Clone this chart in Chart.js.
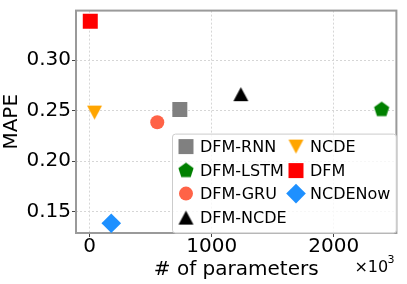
<!DOCTYPE html>
<html>
<head>
<meta charset="utf-8">
<script src="https://cdn.jsdelivr.net/npm/chart.js@4/dist/chart.umd.min.js"></script>
<style>
  html, body { margin: 0; padding: 0; background: #fff; }
  canvas { display: block; }
</style>
</head>
<body>
<canvas id="chart" width="407" height="284"></canvas>
<script>
// values
const modelNames = ['DFM-RNN', 'DFM-LSTM', 'DFM-GRU', 'DFM-NCDE', 'NCDE', 'DFM', 'NCDENow'];
const paramCounts = [739, 2393, 554, 1239, 40, 5, 177];
const mapeValues = [0.251, 0.251, 0.2385, 0.2663, 0.248, 0.3385, 0.1385];
const xTicks = [0, 1000, 2000];
const yTicks = [0.15, 0.20, 0.25, 0.30];

const colors = ['#808080', '#008000', '#ff6347', '#000000', '#ffa500', '#ff0000', '#1e90ff'];
const FONT = 'DejaVu Sans';

// matplotlib-like markers that chart.js doesn't have
function polyMarker(color, w, h, pts) {
    const c = document.createElement('canvas');
    c.width = w; c.height = h;
    const g = c.getContext('2d');
    g.fillStyle = color;
    g.beginPath();
    pts.forEach((p, i) => i ? g.lineTo(p[0], p[1]) : g.moveTo(p[0], p[1]));
    g.closePath();
    g.fill();
    return c;
}

function pentagon(color, r) {
    const size = Math.ceil(r * 2) + 2;
    const cx = size / 2, cy = size / 2;
    const pts = [];
    for (let i = 0; i < 5; i++) {
        const a = -Math.PI / 2 + i * 2 * Math.PI / 5;
        pts.push([cx + r * Math.cos(a), cy + r * Math.sin(a)]);
    }
    return polyMarker(color, size, size, pts);
}

const triUp = polyMarker('#000000', 17, 16, [[8.5, 1], [1, 15], [16, 15]]);
const triDown = polyMarker('#ffa500', 17, 16, [[1, 1], [16, 1], [8.5, 15]]);
const penta = pentagon('#008000', 8);

const styles = ['rect', penta, 'circle', triUp, triDown, 'rect', 'rectRot'];
const radii = [10.6, 8, 7, 8, 8, 10.6, 9.8];

const datasets = modelNames.map((name, i) => ({
    label: name,
    data: [{ x: paramCounts[i], y: mapeValues[i] }],
    pointStyle: styles[i],
    pointRadius: radii[i],
    pointHoverRadius: radii[i],
    backgroundColor: colors[i],
    borderColor: colors[i],
    borderWidth: 0
}));

// frame, legend and the x10^3 offset text
const extras = {
    id: 'extras',
    beforeDatasetsDraw(chart) {
        const { ctx, chartArea: a } = chart;
        ctx.save();
        ctx.strokeStyle = '#9a9a9a';
        ctx.lineWidth = 2;
        ctx.strokeRect(a.left, a.top, a.right - a.left, a.bottom - a.top);
        ctx.restore();
    },
    afterDatasetsDraw(chart) {
        const { ctx, chartArea: a } = chart;
        ctx.save();

        // legend box
        const bx = a.left + 96, by = a.top + 123, bw = 224, bh = 99;
        ctx.fillStyle = 'rgba(255,255,255,0.8)';
        ctx.strokeStyle = '#cccccc';
        ctx.lineWidth = 1;
        ctx.beginPath();
        ctx.roundRect(bx + 0.5, by + 0.5, bw, bh, 3);
        ctx.fill();
        ctx.stroke();

        const order = [[0, 1, 2, 3], [4, 5, 6]];
        const colX = [bx + 14, bx + 124];
        const rowY = [by + 13, by + 37, by + 60, by + 84];
        ctx.font = '16px "' + FONT + '"';
        ctx.textBaseline = 'middle';
        order.forEach((col, ci) => {
            col.forEach((idx, ri) => {
                const x = colX[ci], y = rowY[ri];
                ctx.fillStyle = colors[idx];
                ctx.strokeStyle = colors[idx];
                ctx.lineWidth = 0;
                Chart.helpers.drawPoint(ctx, {
                    pointStyle: styles[idx], radius: radii[idx], rotation: 0, borderWidth: 0
                }, x, y);
                ctx.fillStyle = '#000';
                ctx.fillText(modelNames[idx], x + 14, y + 1);
            });
        });

        // offset text
        ctx.fillStyle = '#000';
        ctx.textBaseline = 'alphabetic';
        ctx.font = '16px "' + FONT + '"';
        ctx.fillText('\u00d710', a.right - 42, a.bottom + 39);
        ctx.font = '11px "' + FONT + '"';
        ctx.fillText('3', a.right - 9, a.bottom + 30);
        ctx.restore();
    }
};

new Chart(document.getElementById('chart'), {
    type: 'scatter',
    data: { datasets },
    options: {
        responsive: false,
        animation: false,
        devicePixelRatio: 1,
        layout: { padding: { top: 3, right: 3, left: 0, bottom: 0 } },
        plugins: { legend: { display: false }, tooltip: { enabled: false } },
        scales: {
            x: {
                type: 'linear',
                min: -112,
                max: 2514,
                afterBuildTicks: s => { s.ticks = xTicks.map(v => ({ value: v })); },
                afterFit: s => { s.height = 51; s.paddingLeft = 0; s.paddingRight = 0; },
                ticks: {
                    color: '#000',
                    font: { family: FONT, size: 20, lineHeight: 1 },
                    padding: 0,
                    maxRotation: 0,
                    callback: v => String(v)
                },
                grid: { color: '#d6d6d6', tickColor: '#444', tickLength: 4, tickWidth: 1 },
                border: { display: false, dash: [2, 2] },
                title: {
                    display: true,
                    text: '# of parameters',
                    color: '#000',
                    font: { family: FONT, size: 20, lineHeight: 1 },
                    padding: { top: 0, bottom: 4 }
                }
            },
            y: {
                type: 'linear',
                min: 0.1288,
                max: 0.349,
                afterBuildTicks: s => { s.ticks = yTicks.map(v => ({ value: v })); },
                afterFit: s => { s.width = 76; s.paddingTop = 0; s.paddingBottom = 0; },
                ticks: {
                    color: '#000',
                    font: { family: FONT, size: 20, lineHeight: 1 },
                    padding: 1,
                    callback: v => v.toFixed(2)
                },
                grid: { color: '#d6d6d6', tickColor: '#444', tickLength: 4, tickWidth: 1 },
                border: { display: false, dash: [2, 2] },
                title: {
                    display: true,
                    text: 'MAPE',
                    color: '#000',
                    font: { family: FONT, size: 20, lineHeight: 1 },
                    padding: { top: 2, bottom: 0 }
                }
            }
        }
    },
    plugins: [extras]
});
</script>
</body>
</html>
